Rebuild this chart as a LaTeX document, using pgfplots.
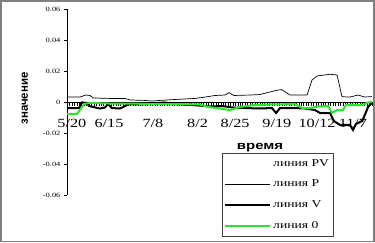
\documentclass[border=0pt]{standalone}
\usepackage{fontspec}
\setmainfont{Liberation Serif}
\setsansfont{Liberation Sans}
\newfontfamily\stserif{Liberation Serif}[FakeStretch=1.3]
\newfontfamily\stsans{Liberation Sans}[FakeStretch=1.3]
\usepackage{pgfplots}
\pgfplotsset{compat=1.18}
\definecolor{linegreen}{RGB}{40,230,40}
\begin{document}
\begin{tikzpicture}
\useasboundingbox (0,0) rectangle (375pt,243pt);
\draw[gray, line width=1.2pt] (1pt,1.5pt) rectangle (374pt,242pt);
\begin{axis}[
  at={(67pt,48pt)}, anchor=south west,
  scale only axis, width=305pt, height=186pt,
  xmin=0, xmax=125, ymin=-0.06, ymax=0.06,
  axis x line*=middle, axis y line*=left,
  scaled y ticks=false,
  ytick={-0.06,-0.04,-0.02,0,0.02,0.04,0.06},
  yticklabels={-0.06,-0.04,-0.02,0,0.02,0.04,0.06},
  yticklabel style={font=\fontsize{6.5}{7}\stserif},
  y tick style={black, line width=0.5pt},
  ytick align=outside, major tick length=3pt,
  xtick={2,17.2,35.2,53.5,68.9,86,102.5,117.2},
  xticklabels={5/20,6/15,7/8,8/2,8/25,9/19,10/12,11/7},
  xticklabel style={font=\fontsize{12.5}{13}\stserif, yshift=-10.5pt},
  major x tick style={draw=none},
  minor xtick={0,1,...,125},
  minor x tick style={black, line width=0.4pt},
  minor tick length=4pt,
  xtick align=outside,
  axis line style={black, line width=0.6pt},
  xlabel={время},
  xlabel style={at={(axis description cs:0.633,0.255)}, anchor=center, font=\fontsize{11.5}{12}\stsans\bfseries},
  ylabel={значение},
  ylabel style={at={(axis description cs:-0.138,0.519)}, anchor=center, rotate=0, font=\fontsize{11.5}{12}\sffamily\bfseries},
  legend style={at={(axis description cs:0.508,0.226)}, anchor=north west,
    draw=black!75, line width=0.5pt, font=\fontsize{10.5}{12}\stserif,
    row sep=8.5pt, inner xsep=2pt, inner ysep=4pt,
    /tikz/every even column/.append style={column sep=2pt}},
  legend cell align=left,
  legend image code/.code={\draw[#1] (0pt,0pt) -- (45pt,0pt);},
]
\addlegendimage{empty legend}
\addlegendentry{линия PV}
\addplot[black, line width=0.7pt] coordinates {
(0,0.0032) (5.3,0.0032) (7.8,0.0045) (9.4,0.0042) (10.7,0.0026) (17.6,0.0023) (23.8,0.0023) (25.8,0.0013) (32,0.0010) (34.8,0.0006) (38,0.0010) (44,0.0016) (52.5,0.0023) (56.6,0.0032) (60.7,0.0042) (64.8,0.0045) (66.4,0.0060) (68.4,0.0042) (75,0.0045) (79,0.0048) (83.2,0.0065) (86.5,0.0077) (88,0.0080) (91.4,0.0045) (98.4,0.0045) (100.4,0.0142) (102.5,0.0168) (107.8,0.0179) (110.7,0.0174) (112.7,0.0034) (116,0.0032) (119.3,0.0045) (122,0.0032) (125,0.0035)
};
\addlegendentry{линия P}
\addplot[black, line width=2pt] coordinates {
(0,-0.0039) (4.9,-0.0039) (6.1,-0.0003) (8.2,-0.0006) (9,-0.0026) (10.7,-0.0032) (13.5,-0.0042) (15.6,-0.0035) (16.8,-0.0013) (18.4,-0.0039) (21.7,-0.0042) (23.8,-0.0026) (25,-0.0016) (30,-0.0016) (34.8,-0.0010) (40,-0.0003) (44,-0.0013) (50.4,-0.0019) (54.5,-0.0023) (58.6,-0.0029) (63.5,-0.0026) (67.6,-0.0035) (73,-0.0039) (79,-0.0042) (84,-0.0039) (85.7,-0.0071) (87.3,-0.0039) (93.4,-0.0039) (97.5,-0.0042) (101.6,-0.0052) (103.7,-0.0071) (107.8,-0.0071) (109.4,-0.0123) (111.9,-0.0148) (116,-0.0148) (117.2,-0.0180) (118.4,-0.0142) (121,-0.0123) (123.4,-0.0032) (125,-0.0003)
};
\addlegendentry{линия V}
\addplot[linegreen, line width=2pt] coordinates {
(0,-0.0077) (4.1,-0.0077) (5.3,-0.0052) (7,-0.0013) (9.4,-0.0006) (17.6,-0.0010) (25.8,-0.0010) (34,-0.0013) (44,-0.0013) (54.5,-0.0016) (57.8,-0.0032) (62.7,-0.0042) (66.8,-0.0052) (70.9,-0.0032) (77,-0.0019) (83.2,-0.0016) (93.4,-0.0013) (96.3,-0.0039) (99.6,-0.0039) (102.9,-0.0029) (107,-0.0026) (108.6,-0.0071) (110.7,-0.0052) (113.1,-0.0052) (114.3,-0.0019) (121,-0.0019) (123.4,-0.0003) (125,0)
};
\addlegendentry{линия 0}
\end{axis}
\end{tikzpicture}
\end{document}
